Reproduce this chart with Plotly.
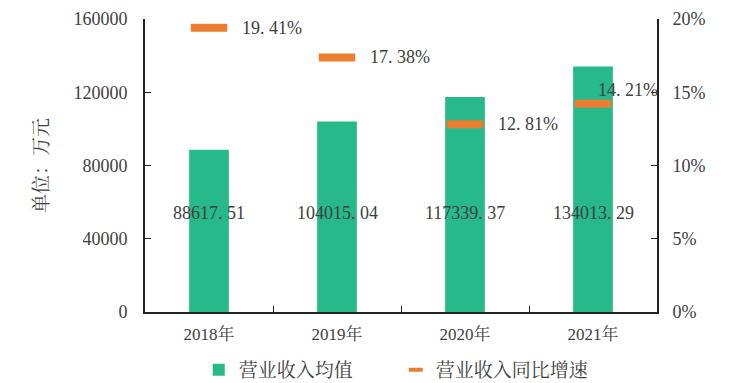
import plotly.graph_objects as go

categories = ["2018年", "2019年", "2020年", "2021年"]
revenue_avg = [88617.51, 104015.04, 117339.37, 134013.29]
growth_pct = [19.41, 17.38, 12.81, 14.21]
left_ticks = [0, 40000, 80000, 120000, 160000]
right_ticks = [0, 5, 10, 15, 20]

FONT = "Liberation Serif, Noto Serif CJK SC, Noto Sans CJK SC, serif"
TXT = "#404040"
GREEN = "#27B98A"
ORANGE = "#ED7D31"

fig = go.Figure()
fig.add_trace(go.Bar(
    x=categories, y=revenue_avg, name="营业收入均值",
    marker=dict(color=GREEN, line=dict(width=0)), width=0.31, yaxis="y",
))
fig.add_trace(go.Scatter(
    x=categories, y=[g / 100 for g in growth_pct], name="营业收入同比增速",
    mode="markers", yaxis="y2", showlegend=False, legendgroup="g",
    marker=dict(symbol="line-ew", size=26, color=ORANGE,
                line=dict(color=ORANGE, width=8)),
))
# legend-only entry with a short dash
fig.add_trace(go.Scatter(
    x=[categories[0]], y=[None], name="营业收入同比增速",
    mode="markers", yaxis="y2", legendgroup="g",
    marker=dict(symbol="line-ew", size=10, color=ORANGE,
                line=dict(color=ORANGE, width=4)),
))

# value labels for bars
for c, v in zip(categories, revenue_avg):
    fig.add_annotation(x=c, y=54000, xref="x", yref="y",
                       text=f"{v:.2f}".replace(".", ". "), showarrow=False,
                       font=dict(family=FONT, size=18, color=TXT))
# growth labels
for i, (c, g) in enumerate(zip(categories, growth_pct)):
    fig.add_annotation(x=c, y=g / 100, xref="x", yref="y2",
                       text=f"{g:.2f}%".replace(".", ". "), showarrow=False,
                       xanchor="left", xshift=31 if i < 3 else 3,
                       yshift=0 if i < 3 else 14,
                       font=dict(family=FONT, size=18, color=TXT))

fig.update_layout(
    width=750, height=383,
    margin=dict(l=145, r=93, t=19, b=71, autoexpand=False),
    plot_bgcolor="white", paper_bgcolor="white",
    font=dict(family=FONT, size=18, color=TXT),
    showlegend=True,
    legend=dict(orientation="h", x=0.105, xanchor="left", y=0.034, yanchor="middle",
                yref="container", entrywidth=152, entrywidthmode="pixels",
                font=dict(family=FONT, size=19, color=TXT), itemwidth=30,
                tracegroupgap=0),
    xaxis=dict(range=[-0.5, 3.5], showline=True, linecolor="#222", linewidth=2,
               ticks="inside", tickson="boundaries", ticklen=6, tickcolor="#222",
               ticklabelstandoff=6, automargin=False,
               tickfont=dict(family=FONT, size=17, color=TXT), showgrid=False),
    yaxis=dict(range=[0, 160000], tickvals=left_ticks,
               ticktext=[str(t) for t in left_ticks], showline=True,
               linecolor="#222", linewidth=2, ticks="inside", ticklen=6,
               tickcolor="#222", showgrid=False, zeroline=False,
               ticklabelstandoff=12, automargin=False,
               tickfont=dict(family=FONT, size=18, color=TXT),
               title=dict(text="单位：万元", font=dict(family=FONT, size=19, color=TXT),
                          standoff=20)),
    yaxis2=dict(range=[0, 0.2], tickvals=[t / 100 for t in right_ticks],
                ticktext=[f"{t}%" for t in right_ticks], overlaying="y", side="right",
                showline=True, linecolor="#222", linewidth=2, ticks="inside",
                ticklen=6, tickcolor="#222", showgrid=False, zeroline=False,
                ticklabelstandoff=10, automargin=False,
                tickfont=dict(family=FONT, size=18, color=TXT)),
)

fig.write_html("out.html", config={"displayModeBar": False},
               post_script="document.body.style.margin='0';")
